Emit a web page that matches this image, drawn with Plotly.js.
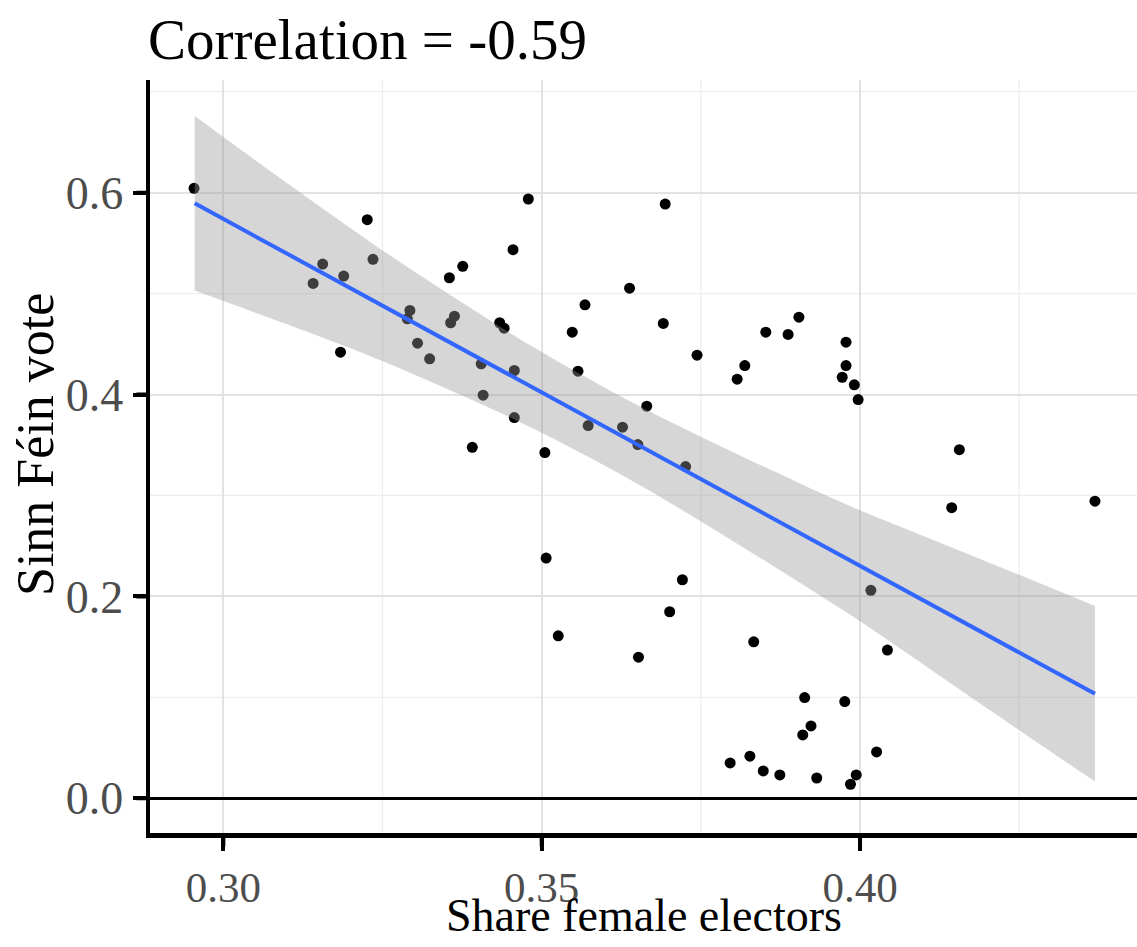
<!DOCTYPE html>
<html>
<head>
<meta charset="utf-8">
<script src="https://cdn.plot.ly/plotly-3.0.1.min.js"></script>
<style>html,body{margin:0;padding:0;background:#fff;}#chart{width:1137px;height:947px;}</style>
</head>
<body>
<div id="chart"></div>
<script>
// Scatter points: share of female electors vs Sinn Féin vote
const shareFemale = [
  0.2954, 0.3226, 0.3235, 0.3156, 0.3141, 0.3189, 0.3376, 0.3355, 0.3293, 0.3289,
  0.3363, 0.3357, 0.3305, 0.3184, 0.3324, 0.3479, 0.3694, 0.3455, 0.3638, 0.3568,
  0.3434, 0.3441, 0.3548, 0.3691, 0.3904, 0.3852, 0.3887, 0.3744, 0.3819, 0.3807,
  0.3405, 0.3457, 0.3557, 0.3408, 0.3665, 0.3457, 0.3573, 0.3627, 0.3651, 0.3391,
  0.3505, 0.3978, 0.3978, 0.3972, 0.3991, 0.3997, 0.4156, 0.4144, 0.4369, 0.4017,
  0.3726, 0.3507, 0.3721, 0.3701, 0.3526, 0.3652, 0.3833, 0.4043, 0.3913, 0.3976,
  0.3923, 0.3910, 0.4026, 0.3827, 0.3848, 0.3874, 0.3932, 0.3994, 0.3985, 0.3796
];
const sinnFeinVote = [
  0.6043, 0.5732, 0.5339, 0.5292, 0.5101, 0.5173, 0.5270, 0.5157, 0.4833, 0.4750,
  0.4776, 0.4711, 0.4509, 0.4419, 0.4354, 0.5937, 0.5887, 0.5435, 0.5054, 0.4889,
  0.4711, 0.4657, 0.4618, 0.4704, 0.4766, 0.4618, 0.4595, 0.4390, 0.4287, 0.4152,
  0.4304, 0.4238, 0.4231, 0.3993, 0.3884, 0.3772, 0.3692, 0.3676, 0.3504, 0.3477,
  0.3425, 0.4519, 0.4287, 0.4171, 0.4096, 0.3950, 0.3454, 0.2879, 0.2943, 0.2060,
  0.3286, 0.2380, 0.2165, 0.1848, 0.1610, 0.1398, 0.1550, 0.1468, 0.0998, 0.0958,
  0.0717, 0.0628, 0.0459, 0.0417, 0.0271, 0.0231, 0.0201, 0.0231, 0.0139, 0.0350
];

// Fitted line and confidence band
const fitX     = [0.2955, 0.3100, 0.3237, 0.3374, 0.3500, 0.3650, 0.3800, 0.3900, 0.4000, 0.4125, 0.4250, 0.4369];
const fitY     = [0.5894, 0.5395, 0.4925, 0.4454, 0.4021, 0.3506, 0.2990, 0.2647, 0.2303, 0.1874, 0.1444, 0.1035];
const bandUpper= [0.6760, 0.6095, 0.5485, 0.4914, 0.4421, 0.3896, 0.3430, 0.3137, 0.2853, 0.2534, 0.2214, 0.1905];
const bandLower= [0.5030, 0.4695, 0.4365, 0.3994, 0.3621, 0.3116, 0.2550, 0.2157, 0.1753, 0.1214, 0.0674, 0.0165];

// Axis ticks
const xTicks = [0.30, 0.35, 0.40];
const xTickText = ['0.30', '0.35', '0.40'];
const xMinor = [0.325, 0.375, 0.425];
const yTicks = [0.0, 0.2, 0.4, 0.6];
const yTickText = ['0.0', '0.2', '0.4', '0.6'];
const yMinor = [0.1, 0.3, 0.5, 0.7];

const xTitle = 'Share female electors';
const yTitle = 'Sinn Féin vote';
const chartTitle = 'Correlation = -0.59';

const serif = 'Liberation Serif, Times New Roman, serif';
const xRange = [0.28848, 0.4435];
const yRange = [-0.0344, 0.7116];
const plotW = 987, plotH = 753, tickLen = 15;

const traces = [
  {
    type: 'scatter', mode: 'markers', x: shareFemale, y: sinnFeinVote,
    marker: {color: '#000000', size: 11}, hoverinfo: 'x+y', showlegend: false
  },
  {
    type: 'scatter', mode: 'lines', x: fitX, y: bandLower,
    line: {width: 0, color: 'rgba(0,0,0,0)', shape: 'spline'}, hoverinfo: 'skip', showlegend: false
  },
  {
    type: 'scatter', mode: 'lines', x: fitX, y: bandUpper, fill: 'tonexty',
    fillcolor: 'rgba(153,153,153,0.4)',
    line: {width: 0, color: 'rgba(0,0,0,0)', shape: 'spline'}, hoverinfo: 'skip', showlegend: false
  },
  {
    type: 'scatter', mode: 'lines', x: fitX, y: fitY,
    line: {color: '#3366FF', width: 4}, hoverinfo: 'skip', showlegend: false
  }
];

const minorColor = '#eeeeee';
const shapes = [];
xMinor.forEach(v => shapes.push({type: 'line', layer: 'below', xref: 'x', yref: 'paper', x0: v, x1: v, y0: 0, y1: 1,
  line: {color: minorColor, width: 1.3}}));
yMinor.forEach(v => shapes.push({type: 'line', layer: 'below', xref: 'paper', yref: 'y', x0: 0, x1: 1, y0: v, y1: v,
  line: {color: minorColor, width: 1.3}}));

const annotations = [
  {
    text: xTitle, xref: 'paper', yref: 'paper', x: 0.5, y: -(916 - 833) / plotH,
    xanchor: 'center', yanchor: 'middle', showarrow: false,
    font: {family: serif, size: 46, color: '#000000'}
  },
  {
    text: yTitle, xref: 'paper', yref: 'paper', x: (35 - 150) / plotW, y: (833 - 445) / plotH,
    xanchor: 'center', yanchor: 'middle', textangle: -90, showarrow: false,
    font: {family: serif, size: 52, color: '#000000'}
  }
];
// outside tick marks drawn as arrow-less annotation lines from the axis outward
xTicks.forEach(v => annotations.push({
  text: '', xref: 'x', yref: 'paper', x: v, y: 0, showarrow: true, arrowhead: 0,
  arrowwidth: 4, arrowcolor: '#000000', ax: 0, ay: tickLen, standoff: 0, startstandoff: 0
}));
yTicks.forEach(v => annotations.push({
  text: '', xref: 'paper', yref: 'y', x: 0, y: v, showarrow: true, arrowhead: 0,
  arrowwidth: 4, arrowcolor: '#000000', ax: -tickLen, ay: 0, standoff: 0, startstandoff: 0
}));

const layout = {
  width: 1137, height: 947,
  paper_bgcolor: '#ffffff', plot_bgcolor: '#ffffff',
  margin: {l: 150, r: 0, t: 80, b: 114, pad: 0},
  font: {family: serif, color: '#000000'},
  title: {
    text: chartTitle,
    font: {family: serif, size: 57, color: '#000000'},
    xref: 'container', x: 148 / 1137, xanchor: 'left',
    yref: 'container', y: 1 - 39 / 947, yanchor: 'middle'
  },
  xaxis: {
    range: xRange,
    tickmode: 'array', tickvals: xTicks, ticktext: xTickText,
    ticks: 'outside', ticklen: 13, tickwidth: 4, tickcolor: '#000000',
    tickfont: {family: serif, size: 43, color: '#4d4d4d'},
    showline: true, linecolor: '#000000', linewidth: 4.5,
    showgrid: true, gridcolor: '#e2e2e2', gridwidth: 2,
    zeroline: false, automargin: false
  },
  yaxis: {
    range: yRange,
    tickmode: 'array', tickvals: yTicks, ticktext: yTickText,
    ticks: 'outside', ticklen: 13, tickwidth: 4, tickcolor: '#000000',
    tickfont: {family: serif, size: 46, color: '#4d4d4d'},
    showline: true, linecolor: '#000000', linewidth: 4.5,
    showgrid: true, gridcolor: '#e2e2e2', gridwidth: 2,
    zeroline: true, zerolinecolor: '#000000', zerolinewidth: 2.5,
    automargin: false
  },
  shapes: shapes,
  annotations: annotations,
  showlegend: false
};

Plotly.newPlot('chart', traces, layout, {displayModeBar: false, staticPlot: true});
</script>
</body>
</html>
